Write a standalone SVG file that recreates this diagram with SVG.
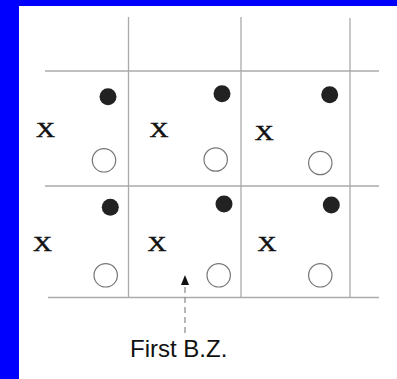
<svg xmlns="http://www.w3.org/2000/svg" width="397" height="379" viewBox="0 0 397 379">
<style>
.grid{stroke:#aaaaaa;stroke-width:1.3;fill:none}
.dot{fill:#222222}
.ring{fill:#ffffff;stroke:#777777;stroke-width:1.2}
.xl{font-family:"Liberation Serif","Times New Roman",serif;font-size:21px;fill:#111111;text-anchor:middle;stroke:#111111;stroke-width:0.5}
.lbl{font-family:"Liberation Sans",Arial,sans-serif;font-size:24px;fill:#111111}
</style>
<rect x="0" y="0" width="397" height="379" fill="#0000ff"/>
<rect x="19" y="6" width="378" height="373" fill="#ffffff"/>
<g id="grid">
<line class="grid" x1="128.5" y1="17" x2="128.5" y2="297.5"/>
<line class="grid" x1="241" y1="17" x2="241" y2="297.5"/>
<line class="grid" x1="350" y1="18" x2="350" y2="297.5"/>
<line class="grid" x1="45" y1="71" x2="379" y2="71"/>
<line class="grid" x1="45" y1="186" x2="379" y2="186"/>
<line class="grid" x1="48" y1="297.5" x2="379" y2="297.5"/>
</g>
<g id="row1">
<g id="dot-1-1"><circle class="dot" cx="108" cy="96.7" r="8.5"/></g>
<g id="dot-1-2"><circle class="dot" cx="222" cy="93.7" r="8.5"/></g>
<g id="dot-1-3"><circle class="dot" cx="329.7" cy="94.7" r="8.5"/></g>
<g id="ring-1-1"><circle class="ring" cx="104" cy="160.3" r="11.7"/></g>
<g id="ring-1-2"><circle class="ring" cx="215.7" cy="159.5" r="11.7"/></g>
<g id="ring-1-3"><circle class="ring" cx="320.3" cy="163" r="11.7"/></g>
<g id="x-1-1"><text class="xl" transform="translate(45.5,137.3) scale(1.25,1)">X</text></g>
<g id="x-1-2"><text class="xl" transform="translate(159,136.7) scale(1.25,1)">X</text></g>
<g id="x-1-3"><text class="xl" transform="translate(264.3,140) scale(1.25,1)">X</text></g>
</g>
<g id="row2">
<g id="dot-2-1"><circle class="dot" cx="110.3" cy="207.3" r="8.5"/></g>
<g id="dot-2-2"><circle class="dot" cx="224" cy="204" r="8.5"/></g>
<g id="dot-2-3"><circle class="dot" cx="331.3" cy="205" r="8.5"/></g>
<g id="ring-2-1"><circle class="ring" cx="105.7" cy="275.3" r="11.7"/></g>
<g id="ring-2-2"><circle class="ring" cx="218.7" cy="275.3" r="11.7"/></g>
<g id="ring-2-3"><circle class="ring" cx="320.3" cy="275.3" r="11.7"/></g>
<g id="x-2-1"><text class="xl" transform="translate(42.5,250.5) scale(1.25,1)">X</text></g>
<g id="x-2-2"><text class="xl" transform="translate(157,250.5) scale(1.25,1)">X</text></g>
<g id="x-2-3"><text class="xl" transform="translate(267,250.5) scale(1.25,1)">X</text></g>
</g>
<g id="connectors">
<line x1="185" y1="333" x2="185" y2="285" stroke="#888888" stroke-width="1.2" stroke-dasharray="6,4"/>
<path d="M181,285 L185,275 L189,285 Z" fill="#111111"/>
</g>
<g id="label">
<text class="lbl" x="130" y="357">First B.Z.</text>
</g>
</svg>
